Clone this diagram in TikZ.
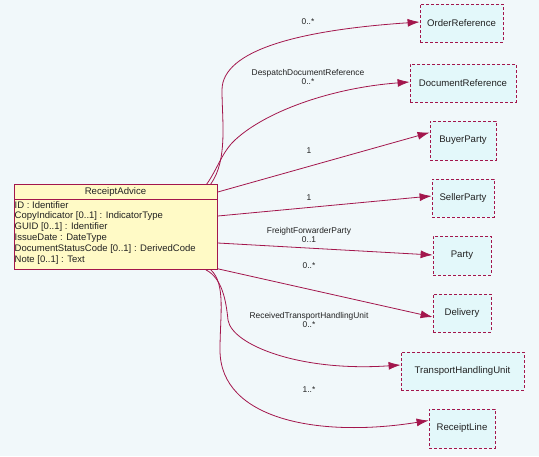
\documentclass[tikz,border=0pt]{standalone}
\usepackage{fontspec}
\setmainfont{Liberation Sans}
\usetikzlibrary{arrows.meta}
\definecolor{crim}{HTML}{A3164C}
\definecolor{bgc}{HTML}{F1F8FA}
\definecolor{clsfill}{HTML}{FFFAC6}
\definecolor{reffill}{HTML}{E3F8FA}
\definecolor{txt}{HTML}{222222}
\tikzset{
  refbox/.style={draw=crim, dashed, fill=reffill, line width=0.8pt, inner sep=0pt, text=txt, font=\fontsize{9.6}{11}\selectfont, dash pattern=on 3pt off 2pt},
  assoc/.style={draw=crim, line width=0.8pt, -{Latex[length=12pt,width=8pt]}},
  lbl/.style={text=txt, font=\fontsize{8.4}{9}\selectfont, align=center, inner sep=0pt},
}
\begin{document}
\begin{tikzpicture}[x=1pt,y=-1pt]
\fill[bgc] (0,0) rectangle (539,456);
\useasboundingbox (0,0) rectangle (539,456);
% class box
\node[draw=crim, fill=clsfill, line width=0.8pt, minimum width=203pt, minimum height=85pt, anchor=north west, inner sep=0pt] (ra) at (14,184) {};
\draw[crim, line width=0.8pt] (14,199) -- (217,199);
\node[text=txt, font=\fontsize{9.6}{11}\selectfont, inner sep=0pt] (ratitle) at (115.5,192) {ReceiptAdvice};
\node[text=txt, font=\fontsize{9.5}{10.8}\selectfont, anchor=north west, align=left, inner sep=0pt] (raattr) at (14.5,201) {ID : Identifier\\CopyIndicator [0..1] : IndicatorType\\GUID [0..1] : Identifier\\IssueDate : DateType\\DocumentStatusCode [0..1] : DerivedCode\\Note [0..1] : Text};
% referenced classes
\node[refbox, minimum width=83pt, minimum height=38pt] (ordref) at (461.5,23) {OrderReference};
\node[refbox, minimum width=106pt, minimum height=38pt] (docref) at (463,83) {DocumentReference};
\node[refbox, minimum width=66pt, minimum height=39pt] (buyer) at (463,140.5) {BuyerParty};
\node[refbox, minimum width=62pt, minimum height=38pt] (seller) at (463,198) {SellerParty};
\node[refbox, minimum width=58pt, minimum height=39pt] (party) at (462,255.5) {Party};
\node[refbox, minimum width=58pt, minimum height=38pt] (deliv) at (462,313) {Delivery};
\node[refbox, minimum width=123pt, minimum height=38pt] (thu) at (462.5,371) {TransportHandlingUnit};
\node[refbox, minimum width=66pt, minimum height=39pt] (rline) at (462,428.5) {ReceiptLine};
% connectors
\draw[assoc] ([xshift=-7pt]ra.north east) .. controls (228,160) and (222,120) .. (222,90) .. controls (222,50) and (300,30) .. ([yshift=1pt]ordref.west);
\draw[assoc] ([xshift=-11pt]ra.north east) .. controls (218,168) and (222,152) .. (235,140) .. controls (265,112) and (330,88) .. ([yshift=1pt]docref.west);
\draw[assoc] ([yshift=-8pt]ra.north east) -- ([yshift=8pt]buyer.west);
\draw[assoc] ([yshift=-32pt]ra.north east) -- ([yshift=2pt]seller.west);
\draw[assoc] ([yshift=-59pt]ra.north east) -- ([yshift=0.5pt]party.west);
\draw[assoc] ([yshift=1pt]ra.south east) -- ([yshift=-4pt]deliv.west);
\draw[assoc] ([xshift=-12pt]ra.south east) .. controls (222,278) and (226,300) .. (228,320) .. controls (232,345) and (300,372) .. ([yshift=6pt]thu.west);
\draw[assoc] ([xshift=-7pt]ra.south east) .. controls (226,284) and (220,315) .. (220,350) .. controls (220,420) and (320,438) .. ([yshift=8pt]rline.west);
% labels
\node[lbl] (l1) at (308,22) {0..*};
\node[lbl] (l2) at (308,76.5) {DespatchDocumentReference\\0..*};
\node[lbl] (l3) at (309,151) {1};
\node[lbl] (l4) at (309,198) {1};
\node[lbl] (l5) at (309,234.5) {FreightForwarderParty\\0..1};
\node[lbl] (l6) at (309,266) {0..*};
\node[lbl] (l7) at (309,319.5) {ReceivedTransportHandlingUnit\\0..*};
\node[lbl] (l8) at (309,390) {1..*};
\end{tikzpicture}
\end{document}
